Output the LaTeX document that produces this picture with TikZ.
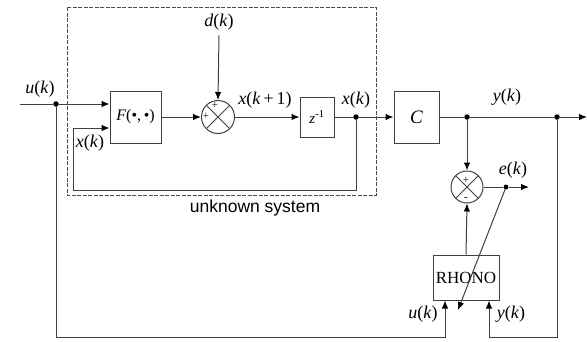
\documentclass[tikz,border=0pt]{standalone}
\usepackage{fontspec}
\setmainfont{Liberation Serif}
\setsansfont{Liberation Sans}
\usetikzlibrary{calc,arrows.meta}

\newcommand{\sgl}[2]{\textit{#1}(\textit{#2})}

\tikzset{
  line/.style={line width=1pt, black!75},
  arr/.style={line, -{Latex[length=8pt,width=6.5pt,color=black,fill=black]}},
  blk/.style={draw, line width=1pt, black!75, text=black, rectangle, inner sep=0pt},
  sumnode/.style={circle, draw, line width=1pt, black!75, inner sep=0pt,
    minimum size=33pt,
    path picture={
      \draw[line] (path picture bounding box.north west) -- (path picture bounding box.south east);
      \draw[line] (path picture bounding box.north east) -- (path picture bounding box.south west);
    }},
  dot/.style={circle, fill=black, inner sep=0pt, minimum size=5.5pt},
  sig/.style={font=\fontsize{18}{20}\selectfont, inner sep=0pt},
  sgn/.style={font=\fontsize{11}{12}\selectfont, inner sep=0pt}
}

\begin{document}
\begin{tikzpicture}[x=1pt,y=1pt,yscale=-1]

\useasboundingbox (0,0) rectangle (587,341);

% ----- Unknown system frame -----
\draw[dashed, black!70, line width=0.8pt, dash pattern=on 4pt off 1.5pt] (67,7) rectangle (376,195);
\node[font=\sffamily\fontsize{17.5}{19}\selectfont, inner sep=0pt] (unk) at (255,208) {unknown system};

% ----- Blocks -----
\node[blk, minimum width=51pt, minimum height=52pt, font=\fontsize{16}{18}\selectfont] (F) at (135.5,117) {\textit{F}(•,\,•)};
\node[sumnode] (S1) at (218,117) {};
\node[blk, minimum width=34pt, minimum height=40pt, font=\fontsize{15}{17}\selectfont] (Z) at (317,117) {\textit{z}\textsuperscript{-1}};
\node[blk, minimum width=45pt, minimum height=52pt, font=\fontsize{19}{21}\selectfont] (C) at (416.5,117) {\textit{C}};
\node[sumnode, minimum size=32pt] (S2) at (467,187) {};
\node[blk, minimum width=66pt, minimum height=45pt, font=\fontsize{17}{19}\selectfont] (RH) at (466,277.5) {RHONO};

% ----- Signs -----
\node[sgn] (p1) at (215,105) {+};
\node[sgn] (p2) at (206,116) {+};
\node[sgn] (p3) at (466,180) {+};
\node[sgn] (m3) at (466,199) {-};

% ----- Branch points -----
\node[dot] (uin) at (56,104) {};
\node[dot] (xk) at (356,117) {};
\node[dot] (yk1) at (467,117) {};
\node[dot] (yk2) at (557,117) {};
\node[dot, minimum size=5pt] (ek) at (506,187) {};

\coordinate (u0) at (20,104);
\coordinate (yout) at (587,117);
\coordinate (eout) at (529,187);
\coordinate (etip) at (458,310);
\coordinate (fb) at (73,190);
\coordinate (ub) at (445,337);
\coordinate (yb) at (489,337);

% ----- Labels -----
\node[sig] (lu) at (40,89) {\sgl{u}{k}};
\node[sig] (ld) at (219,22) {\sgl{d}{k}};
\node[sig] (lxf) at (90,143) {\sgl{x}{k}};
\node[sig] (lx1) at (265,100) {\textit{x}(\textit{k}\,+\,1)};
\node[sig] (lx) at (356,100) {\sgl{x}{k}};
\node[sig] (ly) at (507,97) {\sgl{y}{k}};
\node[sig] (le) at (513,170) {\sgl{e}{k}};
\node[sig] (lu2) at (423,314) {\sgl{u}{k}};
\node[sig] (ly2) at (511,314) {\sgl{y}{k}};

% ----- Forward path -----
\draw[line] (u0) -- (uin);
\draw[arr] (uin) -- (F.west |- uin);
\draw[arr] (F) -- (S1);
\draw[arr] (ld.south) ++(0,5) -- (S1.north);
\draw[arr] (S1) -- (Z);
\draw[line] (Z) -- (xk);
\draw[arr] (xk) -- (C);
\draw[line] (C) -- (yk1) -- (yk2);
\draw[arr] (yk2) -- (yout);

% ----- State feedback -----
\draw[arr] (xk) |- (fb) |- ($(F.west)+(0,11)$);

% ----- Identification loop -----
\draw[arr] (yk1) -- (S2.north);
\draw[arr] (RH.north) -- (S2.south);
\draw[line] (S2) -- (ek);
\draw[arr] (ek) -- (eout);
\draw[arr] (ek) -- (etip);
\draw[arr] (uin) |- (ub) -- (RH.south -| ub);
\draw[arr] (yk2) |- (yb) -- (RH.south -| yb);

\end{tikzpicture}
\end{document}
